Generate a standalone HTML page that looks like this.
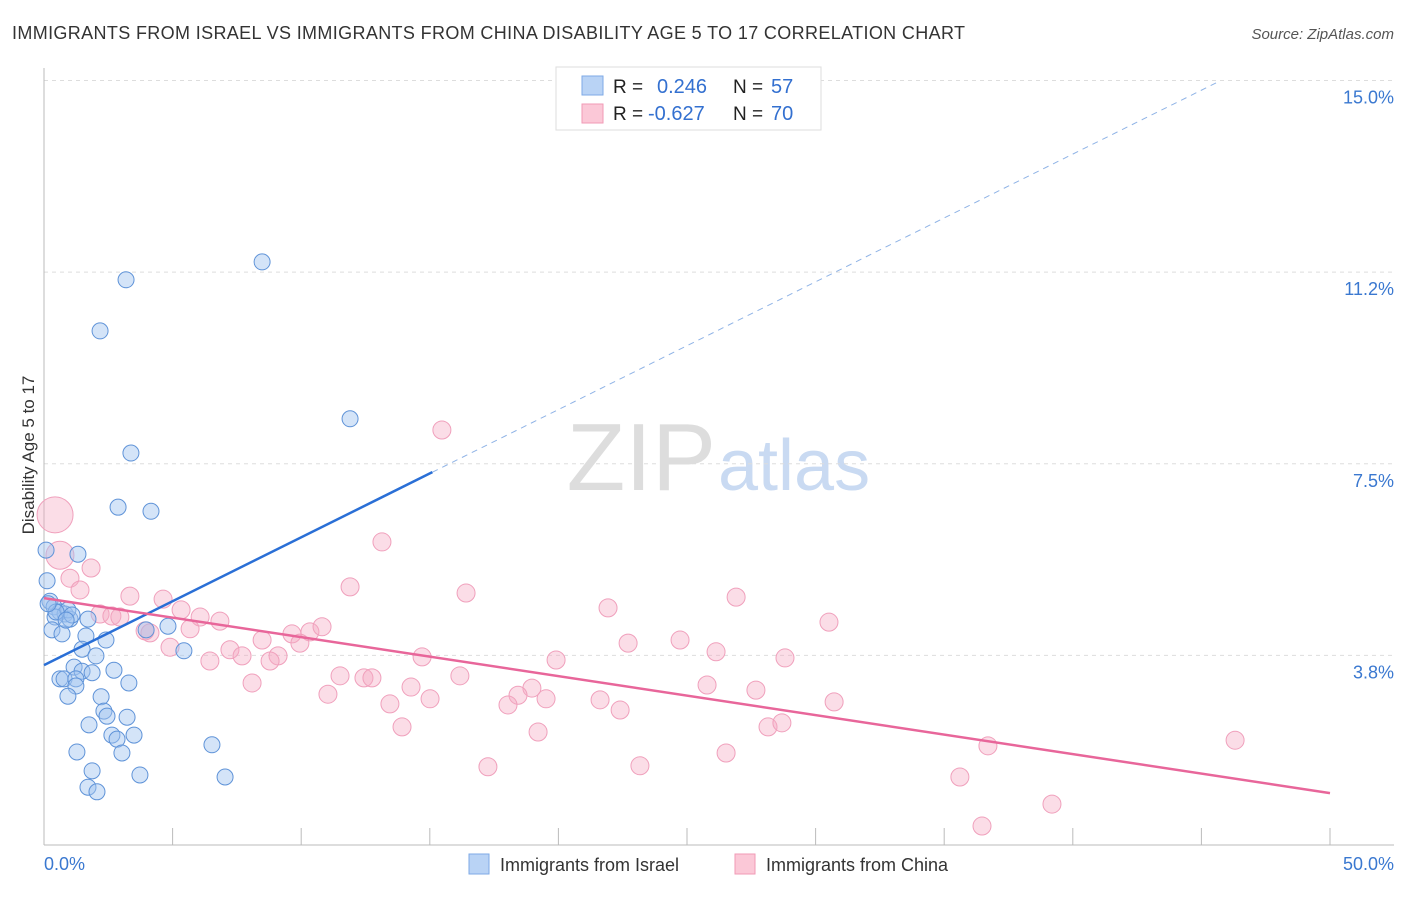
<!DOCTYPE html>
<html><head><meta charset="utf-8"><style>
body{margin:0;background:#fff;font-family:"Liberation Sans",sans-serif;}
svg text{font-family:"Liberation Sans",sans-serif;}
</style></head><body>
<svg id="chart" width="1406" height="892">
<text x="12" y="39" font-size="18" fill="#333" textLength="953" lengthAdjust="spacing">IMMIGRANTS FROM ISRAEL VS IMMIGRANTS FROM CHINA DISABILITY AGE 5 TO 17 CORRELATION CHART</text>
<text x="1394" y="39" font-size="15" fill="#555" font-style="italic" text-anchor="end">Source: ZipAtlas.com</text>
<text x="716" y="490" font-size="96" fill="#ddd" font-family="Liberation Serif" text-anchor="end">ZIP</text>
<text x="718" y="490" font-size="72" fill="#c9daf2">atlas</text>
<text transform="translate(34,455) rotate(-90)" font-size="17" fill="#333" text-anchor="middle">Disability Age 5 to 17</text>
<g id="grid"></g><g id="pts"></g><g id="lines"></g>
<g>
<rect x="556" y="67" width="265" height="63" fill="#fff" stroke="#ddd"/>
<rect x="582" y="76" width="21" height="19" fill="#b9d3f5" stroke="#7ea9e6"/>
<rect x="582" y="104" width="21" height="19" fill="#fbc8d7" stroke="#f09ab6"/>
<text x="613" y="93" font-size="19" fill="#222">R = </text><text x="657" y="93" font-size="20" fill="#3370d0">0.246</text>
<text x="733" y="93" font-size="19" fill="#222">N = </text><text x="771" y="93" font-size="20" fill="#3370d0">57</text>
<text x="613" y="120" font-size="19" fill="#222">R = </text><text x="648" y="120" font-size="20" fill="#3370d0">-0.627</text>
<text x="733" y="120" font-size="19" fill="#222">N = </text><text x="771" y="120" font-size="20" fill="#3370d0">70</text>
</g>
<g>
<rect x="469" y="854" width="20" height="20" fill="#b9d3f5" stroke="#7ea9e6"/>
<text x="500" y="871" font-size="18" fill="#333">Immigrants from Israel</text>
<rect x="735" y="854" width="20" height="20" fill="#fbc8d7" stroke="#f09ab6"/>
<text x="766" y="871" font-size="18" fill="#333">Immigrants from China</text>
</g>
</svg>
<script>
const xTicks=[0,5,10,15,20,25,30,35,40,45,50];
const yTicks=[3.75,7.5,11.25,15];
const yTickLabels=["3.8%","7.5%","11.2%","15.0%"];
const xEndLabels=["0.0%","50.0%"];
const israelX=[8.48,3.19,2.18,11.90,3.38,2.88,4.16,1.32,0.08,0.12,0.23,0.39,0.62,0.82,1.01,0.43,1.71,0.93,0.31,0.70,1.63,2.41,4.82,3.97,5.44,1.48,2.02,1.17,1.48,2.72,1.87,0.62,0.78,1.24,1.24,0.93,3.30,2.22,2.33,2.45,3.23,1.75,2.64,3.50,2.84,3.03,6.53,1.28,1.87,3.73,7.04,1.71,2.06,1.09,0.47,0.86,0.16];
const israelY=[11.45,11.10,10.10,8.38,7.71,6.65,6.57,5.73,5.81,5.21,4.81,4.70,4.60,4.56,4.46,4.50,4.46,4.64,4.25,4.17,4.13,4.05,4.32,4.25,3.84,3.87,3.74,3.52,3.44,3.46,3.41,3.29,3.29,3.29,3.15,2.95,3.21,2.94,2.66,2.56,2.54,2.39,2.19,2.19,2.11,1.84,2.00,1.86,1.49,1.41,1.37,1.17,1.08,4.54,4.60,4.44,4.76];
const chinaX=[15.47,13.14,0.43,0.62,1.01,1.83,1.40,3.34,4.63,11.90,16.41,21.93,26.91,30.52,2.18,2.64,2.95,5.33,6.07,6.84,3.93,4.12,5.68,4.90,8.48,9.64,10.34,10.81,9.95,7.23,7.70,6.45,9.10,8.79,14.70,19.91,22.71,24.73,26.13,28.81,16.17,11.51,12.44,12.75,8.09,14.27,18.97,18.43,19.52,21.62,25.78,27.68,30.72,11.04,13.45,15.01,18.04,22.40,28.15,28.69,13.92,19.21,26.52,36.70,46.31,17.26,23.17,35.61,39.19,36.47];
const chinaY=[8.16,5.97,6.50,5.71,5.26,5.46,5.03,4.91,4.85,5.09,4.97,4.68,4.89,4.40,4.56,4.52,4.50,4.64,4.50,4.42,4.23,4.19,4.27,3.91,4.05,4.17,4.21,4.31,3.99,3.86,3.74,3.64,3.74,3.64,3.72,3.66,3.99,4.05,3.82,3.70,3.35,3.35,3.31,3.31,3.21,3.13,3.11,2.97,2.90,2.88,3.17,3.07,2.84,2.99,2.80,2.90,2.78,2.68,2.35,2.43,2.35,2.25,1.84,1.98,2.09,1.57,1.59,1.37,0.84,0.41];
const chinaR=[9,9,18,14,9,9,9,9,9,9,9,9,9,9,9,9,9,9,9,9,9,9,9,9,9,9,9,9,9,9,9,9,9,9,9,9,9,9,9,9,9,9,9,9,9,9,9,9,9,9,9,9,9,9,9,9,9,9,9,9,9,9,9,9,9,9,9,9,9,9];
const israelTrend=[3.56,0.25];
const chinaTrend=[4.87,-0.0763];
const NS="http://www.w3.org/2000/svg";
const X=v=>44+v*25.72, Y=v=>847-v*51.1;
function mk(t,a,p){const e=document.createElementNS(NS,t);for(const k in a)e.setAttribute(k,a[k]);p.appendChild(e);return e;}
const grid=document.getElementById('grid');
yTicks.forEach((t,i)=>{
 const l=mk('line',{x1:44,x2:1394,y1:Y(t),y2:Y(t),stroke:'#ddd','stroke-dasharray':'4,4'},grid);
 
 
 const tx=mk('text',{x:1394,y:Y(t)+23,'font-size':18,fill:'#3a78d0','text-anchor':'end'},grid);
 tx.textContent=yTickLabels[i];
 
 
});
const ax=mk('line',{x1:44,x2:44,y1:68,y2:845,stroke:'#bbb'},grid);


const bx=mk('line',{x1:44,x2:1394,y1:845,y2:845,stroke:'#bbb'},grid);


xTicks.forEach(t=>{const l=mk('line',{x1:X(t),x2:X(t),y1:828,y2:845,stroke:'#bbb'},grid);
 
 });
[[0,'start',44],[50,'end',1394]].forEach((d,i)=>{const tx=mk('text',{x:d[2],y:870,'font-size':18,fill:'#3a78d0','text-anchor':d[1]},grid);tx.textContent=xEndLabels[i];
 
 });
const pts=document.getElementById('pts');
chinaX.forEach((v,i)=>{const c=mk('circle',{cx:X(v),cy:Y(chinaY[i]),r:chinaR[i],fill:'rgba(246,170,196,0.4)',stroke:'#f0a0bc','stroke-width':1},pts);
 
 });
israelX.forEach((v,i)=>{const c=mk('circle',{cx:X(v),cy:Y(israelY[i]),r:8,fill:'rgba(160,195,240,0.45)',stroke:'#5f93d8','stroke-width':1},pts);
 
 });
const lines=document.getElementById('lines');
const f=(tr,x)=>tr[0]+tr[1]*x;
let l1=mk('line',{x1:X(0),y1:Y(f(israelTrend,0)),x2:X(15.1),y2:Y(f(israelTrend,15.1)),stroke:'#2a6fd6','stroke-width':2.5},lines);


let l2=mk('line',{x1:X(15.1),y1:Y(f(israelTrend,15.1)),x2:X(45.7),y2:Y(f(israelTrend,45.7)),stroke:'#8fb3e6','stroke-width':1,'stroke-dasharray':'6,5'},lines);


let l3=mk('line',{x1:X(0),y1:Y(f(chinaTrend,0)),x2:X(50),y2:Y(f(chinaTrend,50)),stroke:'#e8669a','stroke-width':2.5},lines);


</script>
</body></html>
